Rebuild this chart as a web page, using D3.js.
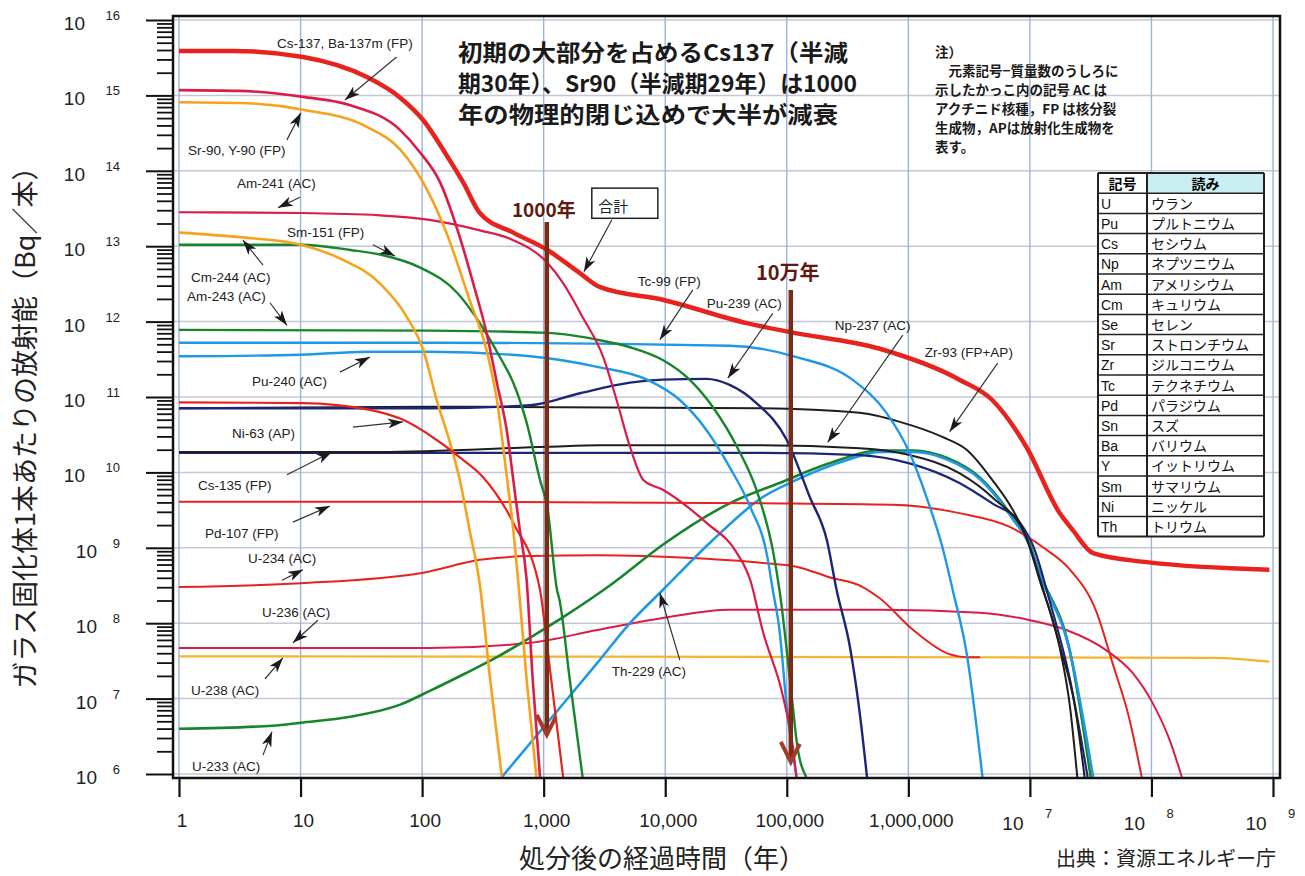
<!DOCTYPE html>
<html>
<head>
<meta charset="utf-8">
<script src="https://cdn.jsdelivr.net/npm/d3@7"></script>
<style>
  body { margin: 0; background: #fff; }
  text { font-family: "Liberation Sans", "Noto Sans CJK JP", sans-serif; }
  .jp { font-family: "Noto Sans CJK JP", sans-serif; }
</style>
</head>
<body>
<div id="chart"></div>
<script>
// 点は [log10(経過年), log10(Bq/本)]
const total  = [[0,15.59],[0.44,15.59],[1.02,15.51],[1.55,15.24],[1.82,14.97],[2.01,14.67],[2.20,14.21],[2.34,13.84],[2.475,13.44],[2.75,13.18],[3.03,12.95],[3.30,12.64],[3.46,12.46],[3.98,12.29],[4.67,11.98],[5.03,11.86],[5.765,11.64],[6.42,11.23],[6.69,10.96],[6.97,10.34],[7.245,9.46],[7.35,9.24],[7.52,8.93],[7.96,8.81],[8.97,8.71]];
const cs137  = [[0,15.07],[0.5,15.06],[1.02,14.98],[1.41,14.87],[1.82,14.54],[1.98,14.25],[2.15,13.84],[2.31,13.12],[2.42,12.51],[2.53,11.85],[2.615,11.19],[2.70,10.52],[2.75,9.90],[2.80,9.28],[2.86,8.57],[2.91,7.25],[2.97,5.96]];
const sr90   = [[0,14.91],[0.5,14.90],[1.02,14.81],[1.55,14.58],[1.82,14.28],[2.01,13.84],[2.20,13.18],[2.39,12.29],[2.53,11.62],[2.615,10.96],[2.70,9.90],[2.75,9.24],[2.79,8.57],[2.86,7.25],[2.94,5.96]];
const am241  = [[0,13.45],[1.0,13.44],[1.65,13.41],[2.06,13.35],[2.475,13.21],[2.75,13.08],[3.03,12.78],[3.16,12.51],[3.32,12.06],[3.49,11.53],[3.60,10.96],[3.71,10.34],[3.82,9.90],[3.98,9.77],[4.34,9.33],[4.59,8.93],[4.70,8.57],[4.80,7.91],[4.97,7.02],[5.05,6.36],[5.08,5.96]];
const cm244  = [[0,13.18],[0.5,13.12],[1.0,13.02],[1.32,12.84],[1.65,12.51],[1.875,12.06],[2.01,11.62],[2.12,10.96],[2.23,10.39],[2.31,9.90],[2.39,9.24],[2.475,8.51],[2.56,7.25],[2.656,5.96]];
const sm151  = [[0,13.02],[1.0,13.02],[1.41,12.95],[1.68,12.88],[1.98,12.72],[2.29,12.38],[2.475,11.98],[2.64,11.53],[2.75,11.19],[2.86,10.66],[2.97,9.90],[3.03,9.54],[3.11,8.44],[3.13,8.31],[3.215,7.25],[3.32,5.96]];
const am243  = [[0,11.89],[2.06,11.88],[3.03,11.85],[3.44,11.76],[3.71,11.66],[3.98,11.49],[4.20,11.23],[4.39,10.87],[4.59,10.34],[4.75,9.77],[4.885,8.97],[4.94,8.44],[5.05,6.89],[5.08,6.45],[5.16,5.96]];
const tc99   = [[0,11.72],[2.06,11.72],[4.53,11.68],[5.08,11.53],[5.54,11.23],[5.82,10.79],[6.01,10.26],[6.15,9.67],[6.28,9.01],[6.365,8.44],[6.48,7.60],[6.61,5.96]];
const pu240  = [[0,11.54],[1.0,11.56],[1.55,11.60],[2.06,11.60],[2.89,11.54],[3.44,11.40],[3.85,11.23],[4.12,10.96],[4.34,10.56],[4.53,10.07],[4.70,9.54],[4.84,8.88],[4.885,8.44],[4.94,7.91],[5.00,6.89],[5.08,5.96]];
const pu239  = [[0,10.85],[2.06,10.85],[2.89,10.89],[3.30,11.05],[3.71,11.19],[3.98,11.23],[4.34,11.24],[4.53,11.16],[4.75,10.92],[5.00,10.43],[5.19,9.67],[5.33,9.10],[5.41,8.44],[5.52,7.68],[5.60,6.81],[5.66,5.96]];
const zr93   = [[0,10.85],[2.06,10.87],[4.78,10.85],[5.60,10.79],[5.93,10.67],[6.28,10.47],[6.48,10.30],[6.69,9.90],[6.86,9.50],[6.97,9.14],[7.08,8.57],[7.245,7.68],[7.33,6.89],[7.39,5.96]];
const cs135  = [[0,10.27],[1.65,10.27],[3.03,10.34],[3.46,10.36],[4.78,10.36],[5.60,10.32],[6.01,10.23],[6.42,9.99],[6.69,9.67],[6.97,9.14],[7.08,8.60],[7.245,7.70],[7.37,6.90],[7.45,5.96]];
const np237  = [[0,10.26],[3.46,10.26],[4.78,10.26],[5.60,10.23],[6.01,10.12],[6.42,9.86],[6.69,9.59],[6.92,9.33],[7.04,8.97],[7.16,8.31],[7.33,7.25],[7.475,5.96]];
const u233   = [[0,6.60],[0.773,6.64],[1.0,6.68],[1.41,6.76],[1.82,6.92],[2.06,7.10],[2.35,7.33],[2.615,7.55],[2.89,7.81],[3.16,8.08],[3.57,8.53],[3.98,9.04],[4.53,9.59],[4.94,9.86],[5.35,10.12],[5.765,10.29],[6.04,10.29],[6.32,10.19],[6.59,9.93],[6.86,9.40],[7.00,9.04],[7.08,8.67],[7.33,7.62],[7.50,5.96]];
const th229  = [[2.656,5.96],[3.03,6.68],[3.44,7.47],[3.71,8.00],[3.98,8.44],[4.39,9.10],[4.80,9.67],[5.08,9.90],[5.49,10.16],[5.765,10.27],[6.04,10.27],[6.32,10.17],[6.59,9.91],[6.86,9.38],[7.00,9.02],[7.08,8.65],[7.33,7.62],[7.52,5.96]];
const pd107  = [[0,9.61],[2.06,9.61],[4.78,9.59],[5.87,9.57],[6.42,9.46],[6.83,9.28],[7.105,9.01],[7.33,8.71],[7.55,8.14],[7.68,7.47],[7.82,6.72],[7.92,5.96]];
const u234   = [[0,8.48],[1.0,8.53],[2.01,8.67],[2.475,8.84],[2.89,8.89],[3.44,8.90],[4.26,8.86],[4.80,8.80],[5.08,8.75],[5.35,8.61],[5.625,8.48],[5.765,8.33],[6.04,7.91],[6.32,7.60],[6.48,7.55],[6.59,7.55]];
const u236   = [[0,7.67],[2.06,7.67],[2.89,7.74],[3.44,7.91],[3.98,8.07],[4.53,8.18],[5.765,8.18],[6.59,8.14],[7.00,8.04],[7.30,7.91],[7.63,7.64],[7.845,7.34],[8.01,6.94],[8.15,6.45],[8.25,5.96]];
const u238   = [[0,7.56],[5.765,7.55],[8.50,7.54],[8.97,7.49]];
const ni63   = [[0,10.93],[1.02,10.92],[1.57,10.83],[1.84,10.70],[2.12,10.43],[2.31,10.20],[2.50,9.94],[2.75,9.33],[2.97,8.44],[3.03,7.68],[3.16,5.96]];

// 軸の目盛り
const xDecades = d3.range(0, 10);
const yDecades = d3.range(6, 17);
const xTickText = ["1","10","100","1,000","10,000","100,000","1,000,000"];

// 記号表
const symbols  = ["U","Pu","Cs","Np","Am","Cm","Se","Sr","Zr","Tc","Pd","Sn","Ba","Y","Sm","Ni","Th"];
const readings = ["ウラン","プルトニウム","セシウム","ネプツニウム","アメリシウム","キュリウム","セレン","ストロンチウム","ジルコニウム","テクネチウム","パラジウム","スズ","バリウム","イットリウム","サマリウム","ニッケル","トリウム"];

const width = 1305, height = 876;
const L = 173, R = 1280, T = 16, B = 778;

const svg = d3.select("#chart").append("svg")
  .attr("width", width).attr("height", height);

const x = d3.scaleLog().domain([1, 1e9]).range([179, 1273]);
const y = d3.scaleLog().domain([1e6, 1e16]).range([774, 20]);
const X = e => x(Math.pow(10, e));
const Y = e => y(Math.pow(10, e));

// 矢印
const defs = svg.append("defs");
defs.append("marker").attr("id", "ah")
  .attr("markerUnits", "userSpaceOnUse")
  .attr("markerWidth", 16).attr("markerHeight", 10)
  .attr("refX", 15).attr("refY", 5).attr("orient", "auto")
  .append("path").attr("d", "M0,0 L15,5 L0,10 L4,5 Z").attr("fill", "#1a1a1a");
defs.append("clipPath").attr("id", "plot")
  .append("rect").attr("x", L).attr("y", T).attr("width", R - L).attr("height", B - T - 1);

// グリッド
svg.append("g").selectAll("line").data(yDecades).join("line")
  .attr("x1", L).attr("x2", R)
  .attr("y1", d => Y(d)).attr("y2", d => Y(d))
  .attr("stroke", "#c3c8d4").attr("stroke-width", 1.5);
svg.append("g").selectAll("line").data(xDecades).join("line")
  .attr("x1", d => X(d)).attr("x2", d => X(d))
  .attr("y1", T).attr("y2", B)
  .attr("stroke", "#9db2df").attr("stroke-width", 1.4);

// 系列
const red = "#e8231d", crimson = "#dc1c48", orange = "#f6a21c", green = "#17862b",
      blue = "#1f98e6", navy = "#1b2676", black = "#1e1e1e";
const series = [
  { d: u238,  c: "#f5b42e", w: 2.2 },
  { d: u236,  c: crimson, w: 2 },
  { d: u234,  c: red, w: 2 },
  { d: u233,  c: green, w: 2.6 },
  { d: th229, c: blue, w: 2.6 },
  { d: pd107, c: red, w: 2 },
  { d: np237, c: navy, w: 2.2 },
  { d: cs135, c: black, w: 2 },
  { d: zr93,  c: black, w: 2 },
  { d: pu239, c: navy, w: 2.4 },
  { d: pu240, c: blue, w: 2.4 },
  { d: tc99,  c: blue, w: 2.4 },
  { d: am243, c: green, w: 2.4 },
  { d: sm151, c: green, w: 2.4 },
  { d: cm244, c: orange, w: 2.6 },
  { d: am241, c: crimson, w: 2.2 },
  { d: ni63,  c: red, w: 2.2 },
  { d: sr90,  c: orange, w: 2.6 },
  { d: cs137, c: crimson, w: 2.6 },
  { d: total, c: red, w: 4.5 }
];
const line = d3.line().x(d => X(d[0])).y(d => Y(d[1])).curve(d3.curveMonotoneX);
svg.append("g").attr("clip-path", "url(#plot)")
  .selectAll("path").data(series).join("path")
  .attr("d", s => line(s.d))
  .attr("fill", "none")
  .attr("stroke", s => s.c)
  .attr("stroke-width", s => s.w)
  .attr("stroke-linejoin", "round");

// 枠
svg.append("rect").attr("x", L).attr("y", T).attr("width", R - L).attr("height", B - T)
  .attr("fill", "none").attr("stroke", "#111").attr("stroke-width", 2.5);

// Y 軸
const yMinor = [];
for (let e = 6; e < 16; e++) for (let m = 2; m < 10; m++) yMinor.push(m * Math.pow(10, e));
svg.append("g").attr("transform", `translate(${L},0)`)
  .call(d3.axisLeft(y).tickValues(yMinor).tickSize(16).tickFormat(""))
  .call(g => g.select(".domain").remove())
  .call(g => g.selectAll("line").attr("stroke", "#111").attr("stroke-width", 1.8));
svg.append("g").attr("transform", `translate(${L},0)`)
  .call(d3.axisLeft(y).tickValues(yDecades.map(e => Math.pow(10, e))).tickSize(27).tickFormat(""))
  .call(g => g.select(".domain").remove())
  .call(g => g.selectAll("line").attr("stroke", "#111").attr("stroke-width", 2));

yDecades.forEach(e => {
  const ty = Y(e);
  const wide = e >= 10;
  svg.append("text").attr("x", wide ? 85 : 97).attr("y", ty + 10)
    .attr("text-anchor", "end").attr("font-size", 19).attr("fill", "#222").text("10");
  svg.append("text").attr("x", 120).attr("y", ty)
    .attr("text-anchor", "end").attr("font-size", 13).attr("fill", "#222").text(e);
});

// X 軸
svg.append("g").attr("transform", `translate(0,${B})`)
  .call(d3.axisBottom(x).tickValues(xDecades.map(e => Math.pow(10, e))).tickSize(19).tickFormat(""))
  .call(g => g.select(".domain").remove())
  .call(g => g.selectAll("line").attr("stroke", "#111").attr("stroke-width", 2.2));

xDecades.forEach(e => {
  const tx = X(e);
  if (e < 7) {
    svg.append("text").attr("x", tx + 3).attr("y", 827)
      .attr("text-anchor", "middle").attr("font-size", 19).attr("fill", "#222").text(xTickText[e]);
  } else {
    svg.append("text").attr("x", tx - 17).attr("y", 830)
      .attr("text-anchor", "middle").attr("font-size", 19).attr("fill", "#222").text("10");
    svg.append("text").attr("x", tx + 15).attr("y", 818)
      .attr("font-size", 13).attr("fill", "#222").text(e);
  }
});

// 軸タイトル
svg.append("text").attr("class", "jp")
  .attr("transform", "translate(35,421) rotate(-90)")
  .attr("text-anchor", "middle").attr("font-size", 27).attr("fill", "#222")
  .text("ガラス固化体1本あたりの放射能（Bq／本）");
svg.append("text").attr("class", "jp")
  .attr("x", 662).attr("y", 868).attr("text-anchor", "middle")
  .attr("font-size", 26).attr("fill", "#222")
  .text("処分後の経過時間（年）");
svg.append("text").attr("class", "jp")
  .attr("x", 1056).attr("y", 866).attr("font-size", 20).attr("fill", "#222")
  .text("出典：資源エネルギー庁");

// 核種ラベル
const notes = [
  { t: "Cs-137, Ba-137m (FP)", at: [0.806,15.63], from: [1.79,15.51], to: [1.365,14.94] },
  { t: "Sr-90, Y-90 (FP)", at: [0.074,14.21], from: [0.888,14.41], to: [1.003,14.77] },
  { t: "Am-241 (AC)", at: [0.477,13.77], from: [0.995,13.65], to: [0.814,13.51] },
  { t: "Sm-151 (FP)", at: [0.888,13.12], from: [1.595,13.02], to: [1.776,12.87] },
  { t: "Cm-244 (AC)", at: [0.099,12.53], from: [0.691,12.75], to: [0.526,13.08] },
  { t: "Am-243 (AC)", at: [0.066,12.27], from: [0.748,12.25], to: [0.888,11.95] },
  { t: "Pu-240 (AC)", at: [0.60,11.15], from: [1.324,11.33], to: [1.571,11.53] },
  { t: "Ni-63 (AP)", at: [0.436,10.46], from: [1.431,10.60], to: [1.842,10.67] },
  { t: "Cs-135 (FP)", at: [0.156,9.77], from: [0.888,9.97], to: [1.258,10.27] },
  { t: "Pd-107 (FP)", at: [0.214,9.13], from: [0.9375,9.34], to: [1.242,9.555] },
  { t: "U-234 (AC)", at: [0.567,8.80], from: [0.847,8.57], to: [1.02,8.71] },
  { t: "U-236 (AC)", at: [0.683,8.08], from: [1.143,8.04], to: [0.9375,7.74] },
  { t: "U-238 (AC)", at: [0.099,7.05], from: [0.707,7.26], to: [0.855,7.54] },
  { t: "U-233 (AC)", at: [0.107,6.04], from: [0.691,6.25], to: [0.765,6.56] },
  { t: "Th-229 (AC)", at: [3.561,7.30], from: [4.12,7.51], to: [3.956,8.40] },
  { t: "Tc-99 (FP)", at: [3.775,12.47], from: [4.227,12.42], to: [3.956,11.76] },
  { t: "Pu-239 (AC)", at: [4.342,12.18], from: [4.885,12.11], to: [4.515,11.25] },
  { t: "Np-237 (AC)", at: [5.395,11.89], from: [5.954,11.82], to: [5.337,10.40] },
  { t: "Zr-93 (FP+AP)", at: [6.135,11.53], from: [6.735,11.45], to: [6.34,10.54] }
];
const ng = svg.append("g");
notes.forEach(n => {
  ng.append("text").attr("x", X(n.at[0])).attr("y", Y(n.at[1]))
    .attr("font-size", 13.5).attr("fill", "#222").text(n.t);
  ng.append("line")
    .attr("x1", X(n.from[0])).attr("y1", Y(n.from[1]))
    .attr("x2", X(n.to[0])).attr("y2", Y(n.to[1]))
    .attr("stroke", "#333").attr("stroke-width", 1.2)
    .attr("marker-end", "url(#ah)");
});

// 合計
svg.append("rect").attr("x", X(3.396)).attr("y", Y(13.77))
  .attr("width", X(3.939) - X(3.396)).attr("height", Y(13.37) - Y(13.77))
  .attr("fill", "#fff").attr("stroke", "#222").attr("stroke-width", 1.5);
svg.append("text").attr("class", "jp").attr("x", X(3.45)).attr("y", Y(13.46))
  .attr("font-size", 15).attr("fill", "#222").text("合計");
svg.append("line")
  .attr("x1", X(3.561)).attr("y1", Y(13.35)).attr("x2", X(3.331)).attr("y2", Y(12.66))
  .attr("stroke", "#333").attr("stroke-width", 1.2).attr("marker-end", "url(#ah)");

// 1000年 / 10万年 の矢印
const brown = "#7a2c14";
[[3.026, 13.32, 6.52, "1000年", 13.39, 19], [5.033, 12.42, 6.16, "10万年", 12.55, 20]].forEach(a => {
  const ax = X(a[0]), y0 = Y(a[1]), y1 = Y(a[2]);
  svg.append("line").attr("x1", ax).attr("x2", ax).attr("y1", y0).attr("y2", y1)
    .attr("stroke", brown).attr("stroke-width", 4.5);
  svg.append("path").attr("d", `M${ax - 10},${y1 - 20} L${ax},${y1} L${ax + 9},${y1 - 18}`)
    .attr("fill", "none").attr("stroke", "#a63a2a").attr("stroke-width", 4);
  svg.append("text").attr("class", "jp").attr("x", ax - 3).attr("y", Y(a[4]))
    .attr("text-anchor", "middle").attr("font-size", a[5]).attr("font-weight", "bold")
    .attr("fill", "#5e1a10").text(a[3]);
});

// 説明文
const headLines = ["初期の大部分を占めるCs137（半減", "期30年）、Sr90（半減期29年）は1000", "年の物理的閉じ込めで大半が減衰"];
const headLen = [390, 399, 380];
headLines.forEach((s, i) => {
  svg.append("text").attr("class", "jp").attr("x", 458).attr("y", 61 + i * 31)
    .attr("font-size", 23).attr("font-weight", "bold").attr("fill", "#1a1a1a")
    .attr("textLength", headLen[i]).attr("lengthAdjust", "spacingAndGlyphs").text(s);
});

const noteLines = ["注）", "　元素記号−質量数のうしろに", "示したかっこ内の記号 AC は", "アクチニド核種，FP は核分裂", "生成物，APは放射化生成物を", "表す。"];
noteLines.forEach((s, i) => {
  svg.append("text").attr("class", "jp").attr("x", 935).attr("y", 57 + i * 19)
    .attr("font-size", 13.5).attr("font-weight", "bold").attr("fill", "#1a1a1a").text(s);
});

// 記号表
const tx0 = 1098, tx1 = 1147, tx2 = 1264, ty0 = 173, rh = 20.2;
const tg = svg.append("g");
tg.append("rect").attr("x", tx0).attr("y", ty0).attr("width", tx2 - tx0).attr("height", rh * 18)
  .attr("fill", "#fff");
tg.append("rect").attr("x", tx1).attr("y", ty0).attr("width", tx2 - tx1).attr("height", rh)
  .attr("fill", "#c9eef2");
for (let i = 0; i <= 18; i++) {
  tg.append("line").attr("x1", tx0).attr("x2", tx2).attr("y1", ty0 + i * rh).attr("y2", ty0 + i * rh)
    .attr("stroke", "#222").attr("stroke-width", i === 0 || i === 18 ? 2 : 1.5);
}
[tx0, tx1, tx2].forEach(v => tg.append("line").attr("x1", v).attr("x2", v)
  .attr("y1", ty0).attr("y2", ty0 + rh * 18).attr("stroke", "#222").attr("stroke-width", 2));
tg.append("text").attr("class", "jp").attr("x", (tx0 + tx1) / 2).attr("y", ty0 + 15.5)
  .attr("text-anchor", "middle").attr("font-size", 14).attr("font-weight", "bold").text("記号");
tg.append("text").attr("class", "jp").attr("x", (tx1 + tx2) / 2).attr("y", ty0 + 15.5)
  .attr("text-anchor", "middle").attr("font-size", 14).attr("font-weight", "bold").text("読み");
symbols.forEach((s, i) => {
  const ry = ty0 + (i + 1) * rh + 15.5;
  tg.append("text").attr("x", tx0 + 3).attr("y", ry).attr("font-size", 14).attr("fill", "#111").text(s);
  tg.append("text").attr("class", "jp").attr("x", tx1 + 4).attr("y", ry)
    .attr("font-size", 14).attr("fill", "#111").text(readings[i]);
});
</script>
</body>
</html>
